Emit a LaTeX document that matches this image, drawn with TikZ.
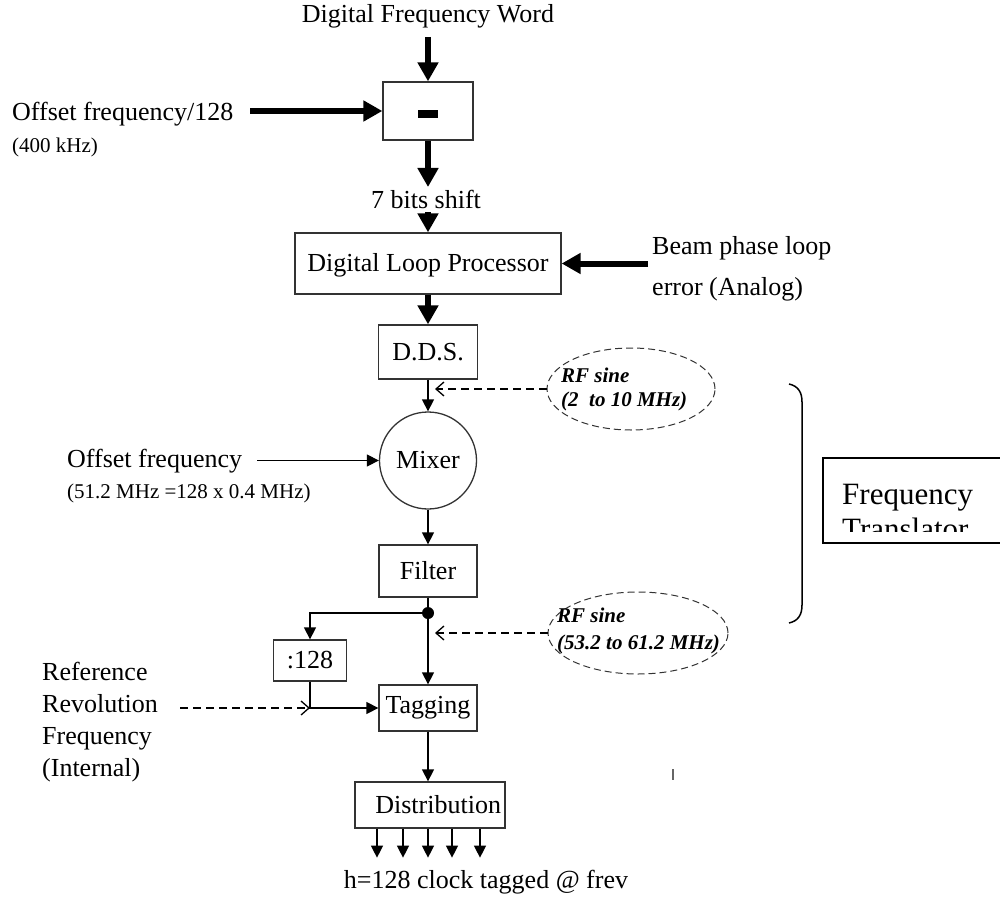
\documentclass[tikz,border=0pt]{standalone}
\usepackage{fontspec}
\setmainfont{Liberation Serif}
\usetikzlibrary{arrows.meta,shapes.geometric}
\newcommand\mainfs{\fontsize{26}{30}\selectfont}
\newcommand\smallfs{\fontsize{21}{25}\selectfont}
\newcommand\bigfs{\fontsize{31}{37}\selectfont}
\begin{document}
\begin{tikzpicture}[x=1pt,y=-1pt,
  box/.style={draw=black!80, line width=1.3pt, inner sep=0pt, font=\mainfs},
  txt/.style={inner sep=0pt, font=\mainfs},
  smalltxt/.style={inner sep=0pt, font=\smallfs},
  rftxt/.style={inner sep=0pt, font=\smallfs\bfseries\itshape},
  rfell/.style={draw=black!80, ellipse, line width=1pt, dash pattern=on 7pt off 4pt, inner sep=0pt},
  thickarrow/.style={line width=6pt, -{Triangle[length=19pt,width=20pt]}},
  thinline/.style={line width=1.3pt},
  thinarrow/.style={line width=1.3pt, -{Triangle[length=12pt,width=12pt]}},
  dasharrow/.style={line width=1.3pt, dash pattern=on 8pt off 5pt, -{Straight Barb[length=8pt,width=14pt]}}
]
\clip (0,0) rectangle (1000,904);
\fill[white] (0,0) rectangle (1000,904);

% top
\node[txt, anchor=base] (dfw) at (428,23) {Digital Frequency Word};
\coordinate (dfwend) at (428,37);
\node[box, minimum width=90pt, minimum height=58pt] (sub) at (428,111) {};
\fill (sub.center) ++(-10,-1) rectangle ++(20,8);
\draw[thickarrow] (dfwend) -- (sub.north);

\node[txt, anchor=base west] (off128) at (12,121) {Offset frequency/128};
\node[smalltxt, anchor=base west] (khz) at (12,153) {(400 kHz)};
\coordinate (off128end) at (250,111);
\draw[thickarrow] (off128end) -- (sub.west);

\node[txt, anchor=base] (shift) at (426,208) {7 bits shift};
\coordinate (shiftin) at (428,187);
\coordinate (shiftout) at (428,212);
\draw[thickarrow] (sub.south) -- (shiftin);

\node[box, minimum width=266pt, minimum height=61pt, text height=18pt, text depth=2pt] (dlp) at (428,263.5) {Digital Loop Processor};
\draw[thickarrow] (shiftout) -- (dlp.north);

\node[txt, anchor=base west] (beam) at (652,254) {Beam phase loop};
\node[txt, anchor=base west] (beam2) at (652,295) {error (Analog)};
\coordinate (beamstart) at (648,263.5);
\draw[thickarrow] (beamstart) -- (dlp.east);

\node[box, minimum width=99pt, minimum height=54pt] (dds) at (428,352) {D.D.S.};
\draw[thickarrow] (dlp.south) -- (dds.north);

\node[draw=black!80, line width=1.3pt, circle, minimum size=97pt, inner sep=0pt, font=\mainfs] (mix) at (428,460.5) {Mixer};
\draw[thinarrow] (dds.south) -- (mix.north);

\node[rfell, minimum width=168pt, minimum height=82pt] (rf1) at (631,389) {};
\node[rftxt, anchor=base west] (rf1a) at (561,382) {RF sine};
\node[rftxt, anchor=base west] (rf1b) at (561,406) {(2\enspace to 10 MHz)};
\coordinate (rf1tip) at (435,389);
\draw[dasharrow] (rf1.west) -- (rf1tip);

\node[txt, anchor=base west] (offf) at (67,467) {Offset frequency};
\node[smalltxt, anchor=base west] (offf2) at (67,498) {(51.2 MHz =128 x 0.4 MHz)};
\coordinate (offstart) at (257,460.5);
\draw[thinarrow] (offstart) -- (mix.west);

\node[box, minimum width=98pt, minimum height=52pt] (filt) at (428,571) {Filter};
\draw[thinarrow] (mix.south) -- (filt.north);

\node[circle, fill, minimum size=12pt, inner sep=0pt] (dot) at (428,613) {};
\draw[thinline] (filt.south) -- (dot.center);

\node[box, minimum width=73pt, minimum height=41pt] (div) at (310,660.5) {:128};
\node[box, minimum width=98pt, minimum height=46pt] (tag) at (428,708) {Tagging};
\draw[thinarrow] (dot.center) -- (tag.north);
\draw[thinarrow] (dot.center) -| (div.north);
\draw[thinarrow] (div.south) |- (tag.west);

\node[rfell, minimum width=180pt, minimum height=82pt] (rf2) at (638,633) {};
\node[rftxt, anchor=base west] (rf2a) at (557,622) {RF sine};
\node[rftxt, anchor=base west] (rf2b) at (557,649) {(53.2 to 61.2 MHz)};
\coordinate (rf2tip) at (435,633);
\draw[dasharrow] (rf2.west) -- (rf2tip);

\node[txt, anchor=base west] (ref1) at (42,680) {Reference};
\node[txt, anchor=base west] (ref2) at (42,712) {Revolution};
\node[txt, anchor=base west] (ref3) at (42,744) {Frequency};
\node[txt, anchor=base west] (ref4) at (42,776) {(Internal)};
\coordinate (refstart) at (180,708);
\coordinate (corner) at (div.south |- tag.west);
\draw[dasharrow] (refstart) -- (corner);

\node[box, minimum width=150pt, minimum height=46pt, text width=142pt, align=right] (dist) at (430,805) {Distribution};
\draw[thinarrow] (tag.south) -- (tag.south |- dist.north);
\foreach \xx in {377,403,428,452,480} {
  \draw[thinarrow] (dist.south -| \xx,0) -- ++(0,29);
}
\node[txt, anchor=base] (hout) at (486,888) {h=128 clock tagged @ frev};

% stray tick
\draw[black!60, line width=1.2pt] (673,769) -- (673,780);

% bracket
\draw[line width=1.5pt] (789,384) .. controls (798,386) and (802,392) .. (802,402) -- (802,605) .. controls (802,615) and (798,621) .. (789,623);

% frequency translator box
\node[draw=black, line width=1.5pt, anchor=north west, minimum width=200pt, minimum height=85pt, inner sep=0pt] (ft) at (822,457) {};
\begin{scope}
\clip (822,457) rectangle (1000,531);
\node[inner sep=0pt, font=\bigfs, anchor=base west] (ft1) at (842,504) {Frequency};
\node[inner sep=0pt, font=\bigfs, anchor=base west] (ft2) at (842,539) {Translator};
\end{scope}
\end{tikzpicture}
\end{document}
